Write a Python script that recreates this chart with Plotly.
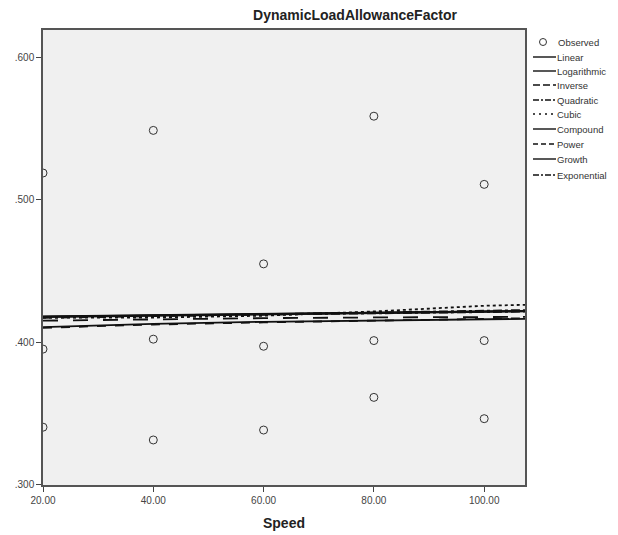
import plotly.graph_objects as go

# Observed data
speed_obs = [20, 20, 20, 40, 40, 40, 60, 60, 60, 80, 80, 80, 100, 100, 100]
dlaf_obs = [0.519, 0.395, 0.340, 0.549, 0.402, 0.331, 0.455, 0.397, 0.338,
            0.559, 0.401, 0.361, 0.511, 0.401, 0.346]

# Fitted curves
fit_x = [20, 40, 60, 80, 100, 107.4]
linear = [0.4178, 0.4187, 0.4196, 0.4205, 0.4214, 0.4218]
logarithmic = [0.4105, 0.4128, 0.4142, 0.4152, 0.4160, 0.4163]
inverse = [0.4150, 0.4160, 0.4168, 0.4173, 0.4176, 0.4177]
quadratic = [0.4170, 0.4183, 0.4196, 0.4208, 0.4220, 0.4225]
cubic = [0.4172, 0.4172, 0.4185, 0.4215, 0.4255, 0.4262]
compound = [0.4180, 0.4188, 0.4197, 0.4206, 0.4215, 0.4219]
power = [0.4100, 0.4123, 0.4138, 0.4150, 0.4162, 0.4167]
growth = [0.4176, 0.4185, 0.4194, 0.4203, 0.4212, 0.4216]
exponential = [0.4174, 0.4183, 0.4192, 0.4201, 0.4210, 0.4214]

y_tick_vals = [0.3, 0.4, 0.5, 0.6]
y_tick_text = [".300", ".400", ".500", ".600"]
x_tick_vals = [20, 40, 60, 80, 100]
x_tick_text = ["20.00", "40.00", "60.00", "80.00", "100.00"]

W, H = 618, 535
ML, MR, MT, MB = 43, 93, 30, 50
PW, PH = W - ML - MR, H - MT - MB

fig = go.Figure()
fig.add_trace(go.Scatter(x=speed_obs, y=dlaf_obs, mode="markers", name="Observed",
                         marker=dict(symbol="circle-open", size=8, color="#333333",
                                     line=dict(width=1, color="#333333"))))

fits = [
    ("Linear", linear, "solid"),
    ("Logarithmic", logarithmic, "solid"),
    ("Inverse", inverse, "longdash"),
    ("Quadratic", quadratic, "dashdot"),
    ("Cubic", cubic, "dot"),
    ("Compound", compound, "solid"),
    ("Power", power, "dash"),
    ("Growth", growth, "solid"),
    ("Exponential", exponential, "dashdot"),
]
for name, vals, dash in fits:
    fig.add_trace(go.Scatter(x=fit_x, y=vals, mode="lines", name=name,
                             line=dict(color="#111111", width=1.8, dash=dash)))

# Manual compact legend (SPSS style); paper coords are relative to plot area
def px(p):
    return (p - ML) / PW
def py(p):
    return (H - MB - p) / PH

legend_y = [42, 57, 71, 85, 100, 114, 129, 144, 159, 175]
legend_dash_px = {"solid": "solid", "longdash": "7px,3px", "dashdot": "6px,2px,2px,2px",
                  "dot": "2px,4px", "dash": "5px,3px"}
shapes = []
annotations = []
annotations.append(dict(x=px(556), y=py(legend_y[0]), xref="paper", yref="paper",
                        text="Observed", showarrow=False, xanchor="left", yanchor="middle",
                        font=dict(size=9.5, color="#333333")))
shapes.append(dict(type="circle", xref="paper", yref="paper",
                   x0=px(539.5), x1=px(546.5), y0=py(legend_y[0] - 3.5), y1=py(legend_y[0] + 3.5),
                   line=dict(color="#333333", width=1)))
for i, (name, vals, dash) in enumerate(fits):
    yy = legend_y[i + 1]
    shapes.append(dict(type="line", xref="paper", yref="paper",
                       x0=px(533), x1=px(556), y0=py(yy), y1=py(yy),
                       line=dict(color="#111111", width=1.4, dash=legend_dash_px[dash])))
    annotations.append(dict(x=px(555), y=py(yy), xref="paper", yref="paper",
                            text=name, showarrow=False, xanchor="left", yanchor="middle",
                            font=dict(size=9.5, color="#333333")))

fig.update_layout(
    width=W, height=H,
    margin=dict(l=ML, r=MR, t=MT, b=MB),
    paper_bgcolor="white",
    plot_bgcolor="#F0F0F0",
    font=dict(family="Arial, Liberation Sans, sans-serif", color="#444444", size=10),
    title=dict(text="<b>DynamicLoadAllowanceFactor</b>", x=355/618, xanchor="center",
               y=1 - 15/535, yanchor="middle",
               font=dict(size=14, color="#222222")),
    showlegend=False,
    shapes=shapes,
    annotations=annotations,
    xaxis=dict(range=[20, 107.4], tickvals=x_tick_vals, ticktext=x_tick_text,
               ticks="outside", ticklen=5, tickcolor="#444444", showgrid=False,
               zeroline=False, showline=True, linecolor="#555555", linewidth=1.5,
               mirror=True, automargin=False,
               title=dict(text="<b>Speed</b>", font=dict(size=14, color="#222222"),
                          standoff=13)),
    yaxis=dict(range=[0.2993, 0.6197], tickvals=y_tick_vals, ticktext=y_tick_text,
               ticks="outside", ticklen=5, tickcolor="#444444", showgrid=False,
               zeroline=False, showline=True, linecolor="#555555", linewidth=1.5,
               mirror=True, automargin=False),
)

fig.write_html("out.html", config={"displayModeBar": False},
               post_script="document.body.style.margin='0';")
